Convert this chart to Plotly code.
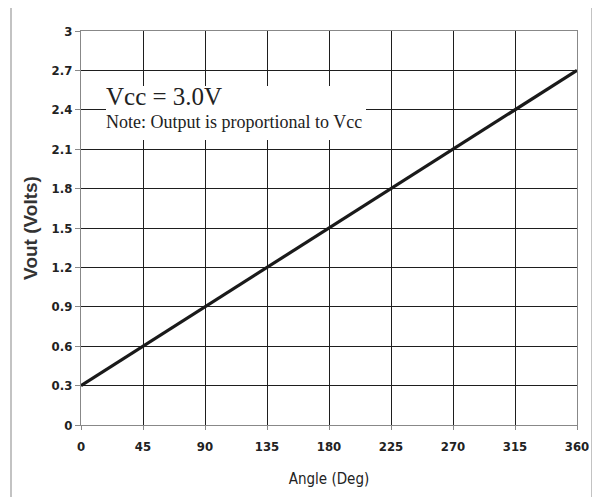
import plotly.graph_objects as go

angle_deg = [0, 360]
vout_volts = [0.3, 2.7]
x_ticks = [0, 45, 90, 135, 180, 225, 270, 315, 360]
y_ticks = [0, 0.3, 0.6, 0.9, 1.2, 1.5, 1.8, 2.1, 2.4, 2.7, 3]
y_tick_labels = ["0", "0.3", "0.6", "0.9", "1.2", "1.5", "1.8", "2.1", "2.4", "2.7", "3"]

OFF = 8  # page body margin
W, H = 600 - OFF, 497 - OFF
L, R, T, B = 81 - OFF, 23, 31 - OFF, 72
pw, ph = W - L - R, H - T - B

def px(x):
    return (x - OFF - L) / pw

def py(y):
    return (H - B - (y - OFF)) / ph

fig = go.Figure()
fig.add_trace(go.Scatter(x=angle_deg, y=vout_volts, mode="lines",
                         line=dict(color="#1a1a1a", width=3.2), showlegend=False))

tickfont = dict(family="DejaVu Sans Condensed, Liberation Sans Narrow, Liberation Sans", size=13, color="#222")
fig.update_xaxes(range=[0, 360], tickvals=x_ticks, ticktext=["<b>%d</b>" % v for v in x_ticks],
                 showgrid=True, gridcolor="#1e1e1e", gridwidth=1,
                 showline=True, linecolor="#888", linewidth=1.2, mirror=True,
                 ticks="outside", ticklen=4, tickcolor="#888", ticklabelstandoff=5,
                 tickfont=tickfont, zeroline=False,
                 title=dict(text="Angle (Deg)", font=dict(family="DejaVu Sans Condensed, Liberation Sans", size=15, color="#222"), standoff=20))
fig.update_yaxes(range=[0, 3], tickvals=y_ticks, ticktext=["<b>%s</b>" % t for t in y_tick_labels],
                 showgrid=True, gridcolor="#1e1e1e", gridwidth=1,
                 showline=True, linecolor="#888", linewidth=1.2, mirror=True,
                 ticks="outside", ticklen=5, tickcolor="#888",
                 tickfont=tickfont, zeroline=False,
                 title=dict(text="<b>Vout (Volts)</b>", font=dict(family="Liberation Sans, Arial", size=19, color="#333"), standoff=8))

# outer frame
fig.add_shape(type="rect", xref="paper", yref="paper",
              x0=px(11), x1=px(592), y0=py(520), y1=py(6),
              line=dict(color="#b0b0b0", width=1.5), fillcolor="rgba(0,0,0,0)", layer="below")
# white box behind note
fig.add_shape(type="rect", xref="paper", yref="paper",
              x0=px(106), x1=px(366), y0=py(140), y1=py(86),
              line=dict(width=0), fillcolor="white", layer="above")

fig.add_annotation(text="Vcc = 3.0V", xref="paper", yref="paper", x=px(104), y=py(96),
                   xanchor="left", yanchor="middle", showarrow=False,
                   font=dict(family="Liberation Serif, Times New Roman", size=25, color="#222"))
fig.add_annotation(text="Note: Output is proportional to Vcc", xref="paper", yref="paper", x=px(104), y=py(122),
                   xanchor="left", yanchor="middle", showarrow=False,
                   font=dict(family="Liberation Serif, Times New Roman", size=18, color="#222"))

fig.update_layout(width=W, height=H, margin=dict(l=L, r=R, t=T, b=B),
                  plot_bgcolor="white", paper_bgcolor="white")
fig.write_html("out.html")
